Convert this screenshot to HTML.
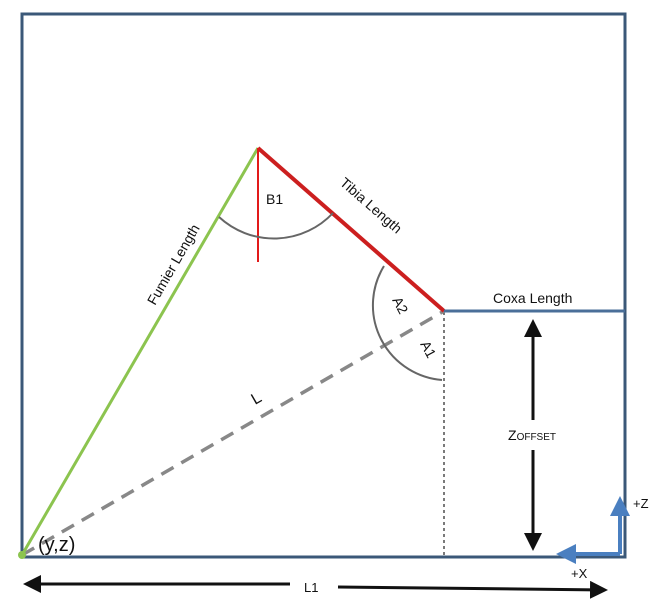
<!DOCTYPE html>
<html><head><meta charset="utf-8"><style>body{margin:0;background:#fff}svg{display:block}text{font-family:"Liberation Sans","DejaVu Sans",sans-serif;fill:#111}</style></head>
<body>
<svg width="663" height="609" viewBox="0 0 663 609">
<defs>
<marker id="ah" markerWidth="6" markerHeight="6" refX="5" refY="3" orient="auto" markerUnits="strokeWidth"><path d="M0,0 L6,3 L0,6 z" fill="#111"/></marker>
<marker id="bh" markerWidth="5" markerHeight="5" refX="4" refY="2.5" orient="auto" markerUnits="strokeWidth"><path d="M0,0 L5,2.5 L0,5 z" fill="#4a7fc0"/></marker>
</defs>
<rect x="22" y="14" width="603" height="543" fill="none" stroke="#3b5878" stroke-width="3"/>
<line x1="444" y1="312" x2="444" y2="556" stroke="#222" stroke-width="1.2" stroke-dasharray="3,3"/>
<line x1="22" y1="555" x2="444" y2="311" stroke="#888" stroke-width="3.5" stroke-dasharray="14,9"/>
<line x1="22" y1="555" x2="258" y2="148" stroke="#8cc44f" stroke-width="3"/>
<line x1="258" y1="148" x2="444" y2="311" stroke="#cc1f1f" stroke-width="4"/>
<line x1="258" y1="148" x2="258" y2="262" stroke="#e21a1a" stroke-width="2"/>
<line x1="444" y1="311" x2="625" y2="311" stroke="#4a6f99" stroke-width="3"/>
<path d="M219,217 A81,81 0 0 0 333,213" fill="none" stroke="#666" stroke-width="2"/>
<path d="M384,266 A75,75 0 0 0 442,380" fill="none" stroke="#666" stroke-width="2"/>
<circle cx="22" cy="555" r="4" fill="#8cc44f"/>
<text x="0" y="0" font-size="14" transform="translate(155,306) rotate(-60)">Fumier Length</text>
<text x="0" y="0" font-size="14" transform="translate(339,184) rotate(41)">Tibia Length</text>
<text x="266" y="204" font-size="14">B1</text>
<text x="0" y="0" font-size="14" transform="translate(392,300) rotate(62)">A2</text>
<text x="0" y="0" font-size="14" transform="translate(420,344) rotate(62)">A1</text>
<text x="0" y="0" font-size="16" transform="translate(255,405) rotate(-30)">L</text>
<text x="493" y="303" font-size="14">Coxa Length</text>
<text x="38" y="551" font-size="20">(y,z)</text>
<line x1="533" y1="420" x2="533" y2="322" stroke="#111" stroke-width="3" marker-end="url(#ah)"/>
<line x1="533" y1="450" x2="533" y2="548" stroke="#111" stroke-width="3" marker-end="url(#ah)"/>
<text x="508" y="440" font-size="14">Z<tspan font-size="10">OFFSET</tspan></text>
<line x1="290" y1="584" x2="26" y2="584" stroke="#111" stroke-width="3" marker-end="url(#ah)"/>
<line x1="338" y1="587" x2="605" y2="590" stroke="#111" stroke-width="3" marker-end="url(#ah)"/>
<text x="304" y="592" font-size="13">L1</text>
<path d="M620,554 L620,500" fill="none" stroke="#4a7fc0" stroke-width="4" marker-end="url(#bh)"/>
<path d="M620,554 L560,554" fill="none" stroke="#4a7fc0" stroke-width="4" marker-end="url(#bh)"/>
<text x="633" y="508" font-size="13">+Z</text>
<text x="571" y="578" font-size="13">+X</text>
</svg>
</body></html>
